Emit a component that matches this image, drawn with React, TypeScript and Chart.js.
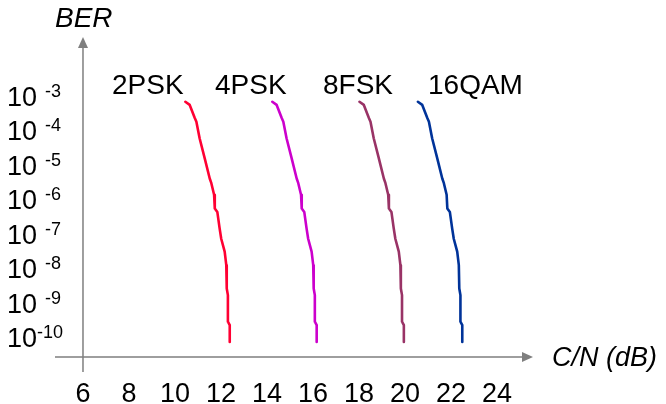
import React, { useEffect, useRef } from "react";
import { Chart, registerables } from "chart.js";

Chart.register(...registerables);

// BER levels along each curve (same sampling for every curve)
const berLevels = [
  9.5e-4, 7.7e-4, 3.2e-4, 2.5e-4, 8.3e-5, 2.2e-5, 5.6e-6, 4.1e-6, 1.9e-6, 7.6e-7,
  6.0e-7, 2.0e-7, 1.0e-7, 4.2e-8, 1.7e-8, 3.6e-9, 2.3e-9, 3.9e-10, 3.1e-10, 1.0e-10,
];

// C/N (dB) values for each modulation
const cn2PSK = [10.45, 10.64, 10.86, 10.93, 11.07, 11.29, 11.51, 11.58, 11.7, 11.73, 11.84, 11.94, 12.01, 12.16, 12.23, 12.25, 12.3, 12.3, 12.38, 12.38];
const cn4PSK = [14.23, 14.42, 14.64, 14.71, 14.85, 15.07, 15.29, 15.36, 15.48, 15.51, 15.62, 15.72, 15.79, 15.94, 16.01, 16.03, 16.08, 16.08, 16.16, 16.16];
const cn8FSK = [18.02, 18.21, 18.43, 18.5, 18.64, 18.86, 19.08, 19.15, 19.27, 19.3, 19.41, 19.51, 19.58, 19.73, 19.8, 19.82, 19.87, 19.87, 19.95, 19.95];
const cn16QAM = [20.56, 20.75, 20.97, 21.04, 21.18, 21.4, 21.62, 21.69, 21.81, 21.84, 21.95, 22.05, 22.12, 22.27, 22.34, 22.36, 22.41, 22.41, 22.49, 22.49];

const seriesNames = ["2PSK", "4PSK", "8FSK", "16QAM"];
const xTickLabels = [6, 8, 10, 12, 14, 16, 18, 20, 22, 24];
const yTickExponents = [-3, -4, -5, -6, -7, -8, -9, -10];

const COLORS = ["#ff0033", "#cc00cc", "#993366", "#003399"];
const NAME_LEFT = [112, 215, 323, 428];
const FONT = "Liberation Sans, Arial, sans-serif";
const AXIS = "#7f7f7f";

const toPoints = (xs: number[]) => xs.map((x, i) => ({ x, y: berLevels[i] }));

const decorPlugin = {
  id: "decor",
  afterDraw(chart: any) {
    const ctx = chart.ctx as CanvasRenderingContext2D;
    const xs = chart.scales.x;
    const ys = chart.scales.y;
    const area = chart.chartArea;
    const x0 = xs.getPixelForValue(6);
    const yb = area.bottom;
    ctx.save();
    // axes
    ctx.strokeStyle = AXIS;
    ctx.fillStyle = AXIS;
    ctx.lineWidth = 1.5;
    ctx.beginPath();
    ctx.moveTo(x0, area.top + 9);
    ctx.lineTo(x0, yb + 15);
    ctx.moveTo(area.left, yb);
    ctx.lineTo(area.right - 9, yb);
    ctx.stroke();
    // arrows
    ctx.beginPath();
    ctx.moveTo(x0, area.top);
    ctx.lineTo(x0 - 5, area.top + 11);
    ctx.lineTo(x0 + 5, area.top + 11);
    ctx.closePath();
    ctx.fill();
    ctx.beginPath();
    ctx.moveTo(area.right, yb);
    ctx.lineTo(area.right - 11, yb - 5);
    ctx.lineTo(area.right - 11, yb + 5);
    ctx.closePath();
    ctx.fill();

    ctx.fillStyle = "#000";
    // x tick labels
    ctx.font = `27px ${FONT}`;
    ctx.textAlign = "center";
    ctx.textBaseline = "alphabetic";
    xTickLabels.forEach((v) => {
      ctx.fillText(String(v), xs.getPixelForValue(v), 402);
    });
    // y tick labels with superscript
    yTickExponents.forEach((e) => {
      const py = ys.getPixelForValue(Math.pow(10, e));
      ctx.textAlign = "left";
      ctx.font = `27px ${FONT}`;
      ctx.fillText("10", 7, py + 5);
      ctx.font = `18px ${FONT}`;
      const sx = e <= -10 ? 37 : 45;
      ctx.fillText(String(e), sx, py - 4);
    });
    // axis titles
    ctx.font = `italic 28px ${FONT}`;
    ctx.textAlign = "left";
    ctx.fillText("BER", 55, 27);
    ctx.font = `italic 27px ${FONT}`;
    ctx.fillText("C/N (dB)", 552, 366);
    // series names
    ctx.font = `28px ${FONT}`;
    seriesNames.forEach((n, i) => ctx.fillText(n, NAME_LEFT[i], 94));
    ctx.restore();
  },
};

export default function App() {
  const ref = useRef<HTMLCanvasElement | null>(null);
  useEffect(() => {
    if (!ref.current) return;
    const all = [cn2PSK, cn4PSK, cn8FSK, cn16QAM];
    const chart = new Chart(ref.current, {
      type: "line",
      data: {
        datasets: all.map((xs, i) => ({
          label: seriesNames[i],
          data: toPoints(xs),
          borderColor: COLORS[i],
          borderWidth: 2.6,
          pointRadius: 0,
          tension: 0,
          fill: false,
          borderCapStyle: "round" as const,
          borderJoinStyle: "round" as const,
        })),
      },
      options: {
        responsive: false,
        animation: false,
        layout: { padding: { left: 55, right: 133, top: 37, bottom: 47 } },
        plugins: { legend: { display: false }, tooltip: { enabled: false } },
        scales: {
          x: { type: "linear", display: false, min: 4.783, max: 25.565 },
          y: { type: "logarithmic", display: false, min: 3.67e-11, max: 0.0723 },
        },
      },
      plugins: [decorPlugin],
    });
    return () => chart.destroy();
  }, []);
  return (
    <div style={{ position: "fixed", left: 0, top: 0, width: 666, height: 404, background: "#fff" }}>
      <canvas ref={ref} width={666} height={404} style={{ width: 666, height: 404 }} />
    </div>
  );
}
